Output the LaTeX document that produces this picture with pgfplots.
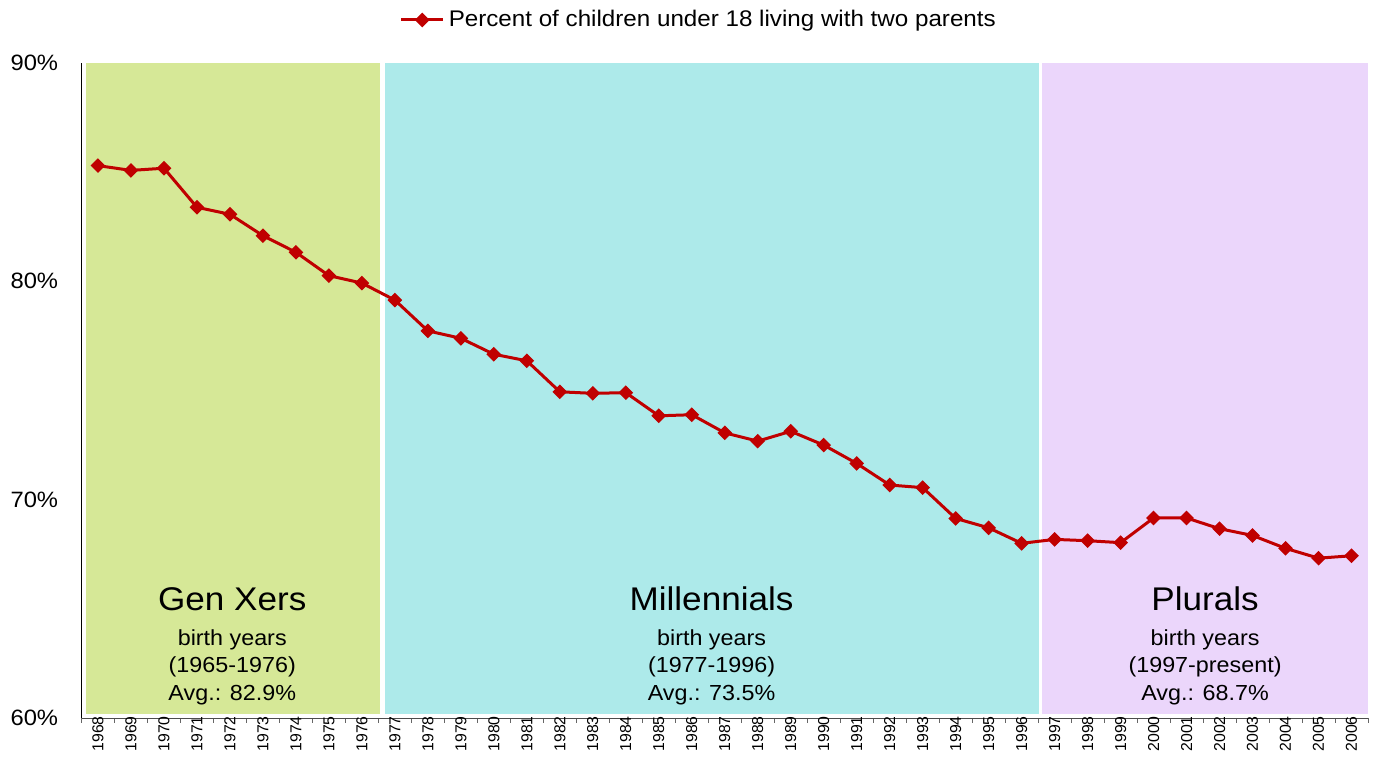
\documentclass[border=0pt]{standalone}
\usepackage{pgfplots}
\pgfplotsset{compat=1.18}
\usepackage{pgfplotstable}
\usepackage{fontspec}
\setmainfont{Liberation Sans}[FakeStretch=1.07]
\newfontfamily\yearfont{Liberation Sans}

\definecolor{genx}{RGB}{214,232,151}
\definecolor{mill}{RGB}{173,234,234}
\definecolor{plur}{RGB}{235,214,251}
\definecolor{series}{RGB}{192,0,0}

% Percent of children under 18 living with two parents, 1968 (x=0) to 2006 (x=38)
\pgfplotstableread{
x y
0 85.30
1 85.08
2 85.18
3 83.39
4 83.07
5 82.09
6 81.33
7 80.26
8 79.92
9 79.14
10 77.73
11 77.39
12 76.66
13 76.36
14 74.94
15 74.87
16 74.90
17 73.84
18 73.89
19 73.06
20 72.68
21 73.13
22 72.50
23 71.66
24 70.67
25 70.55
26 69.14
27 68.71
28 68.00
29 68.18
30 68.12
31 68.03
32 69.16
33 69.16
34 68.67
35 68.36
36 67.77
37 67.32
38 67.43
}\twoparents

\begin{document}
\begin{tikzpicture}
\begin{axis}[
  name=ax,
  scale only axis,
  width=643.25pt, height=327.5pt,
  xmin=-0.5, xmax=38.5,
  ymin=60, ymax=90,
  axis x line*=bottom,
  axis y line*=left,
  axis line style={-},
  x axis line style={black!70},
  y axis line style={black},
  xtick={0,...,38},
  xticklabels={1968,1969,1970,1971,1972,1973,1974,1975,1976,1977,1978,1979,1980,1981,1982,1983,1984,1985,1986,1987,1988,1989,1990,1991,1992,1993,1994,1995,1996,1997,1998,1999,2000,2001,2002,2003,2004,2005,2006},
  minor xtick={-0.5,0.5,...,38.5},
  major tick length=0pt,
  minor tick length=2.5pt,
  tick align=outside,
  tick style={black!60},
  xticklabel style={yshift=1pt, rotate=90, anchor=east, inner sep=0pt,
    font=\yearfont\fontsize{7.9}{8}\selectfont},
  ytick={60,70,80,90},
  yticklabel={\pgfmathprintnumber{\tick}\%},
  /pgf/number format/assume math mode=true,
  yticklabel style={anchor=east, inner sep=0pt, xshift=-11.5pt,
    font=\fontsize{11.1}{12}\selectfont},
  legend style={draw=none, fill=none, at={(0.4806,1)}, anchor=center,
    yshift=21.5pt, inner sep=0pt, font=\fontsize{11.3}{13}\selectfont},
  legend image code/.code={
    \draw[mark repeat=2, mark phase=2, #1]
      plot coordinates {(0pt,0pt) (10.5pt,0pt) (21pt,0pt)};},
  clip=true,
]
% generation bands
\addplot[draw=none, fill=genx, forget plot]
  coordinates {(-0.35,60.18) (8.55,60.18) (8.55,90) (-0.35,90)} -- cycle;
\addplot[draw=none, fill=mill, forget plot]
  coordinates {(8.71,60.18) (28.52,60.18) (28.52,90) (8.71,90)} -- cycle;
\addplot[draw=none, fill=plur, forget plot]
  coordinates {(28.61,60.18) (38.5,60.18) (38.5,90) (28.61,90)} -- cycle;

\addplot[series, line width=1.5pt, mark=square*,
  mark size=2.3pt, mark options={rotate=45, solid, line width=0.6pt, fill=series}]
  table[x=x, y=y] {\twoparents};
\addlegendentry{Percent of children under 18 living with two parents}

% generation captions
\def\bigf{\fontsize{16.4}{18}\selectfont}
\def\smf{\fontsize{10.9}{12}\selectfont}
\foreach \cx/\name/\yrs/\avg in {4.07/Gen Xers/(1965-1976)/82.9,
                                 18.6/Millennials/(1977-1996)/73.5,
                                 33.56/Plurals/(1997-present)/68.7}{
  \edef\temp{\noexpand\node[anchor=base, inner sep=0pt, font=\noexpand\bigf] at (axis cs:\cx,64.94) {\name};
    \noexpand\node[anchor=base, inner sep=0pt, font=\noexpand\smf] at (axis cs:\cx,63.34) {birth years};
    \noexpand\node[anchor=base, inner sep=0pt, font=\noexpand\smf] at (axis cs:\cx,62.10) {\yrs};
    \noexpand\node[anchor=base, inner sep=0pt, font=\noexpand\smf] at (axis cs:\cx,60.82) {Avg.: \avg\noexpand\%};}
  \temp
}
\end{axis}
\pgfresetboundingbox
\path[use as bounding box] ([xshift=-40.75pt,yshift=-23pt]ax.south west) rectangle ++(688pt,382pt);
\end{tikzpicture}
\end{document}
